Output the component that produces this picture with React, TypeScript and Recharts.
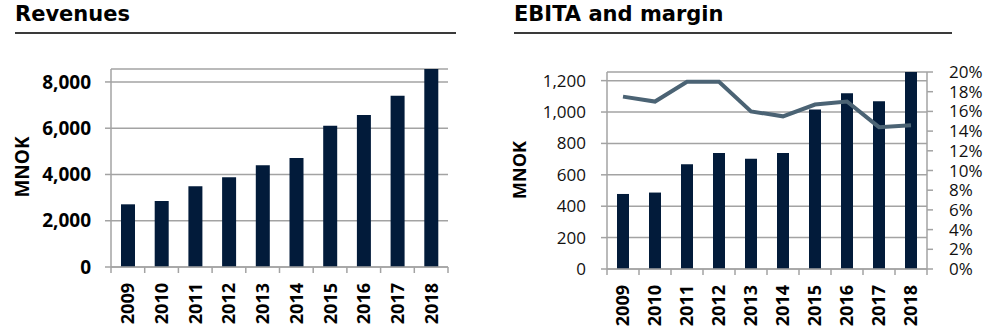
import React from "react";
import {
  BarChart,
  ComposedChart,
  Bar,
  Line,
  XAxis,
  YAxis,
  CartesianGrid,
} from "recharts";

const years = ["2009", "2010", "2011", "2012", "2013", "2014", "2015", "2016", "2017", "2018"];
const revenues = [2710, 2850, 3490, 3880, 4400, 4710, 6110, 6570, 7400, 8560];
const ebita = [478, 487, 668, 739, 702, 739, 1016, 1119, 1069, 1255];
const marginPct = [17.5, 17.0, 19.0, 19.0, 16.0, 15.5, 16.7, 17.0, 14.4, 14.6];
const revenueTicks = [0, 2000, 4000, 6000, 8000];
const ebitaTicks = [0, 200, 400, 600, 800, 1000, 1200];
const marginTicks = [0, 2, 4, 6, 8, 10, 12, 14, 16, 18, 20];

const revenueData = years.map((year, i) => ({ year, revenue: revenues[i] }));
const ebitaData = years.map((year, i) => ({ year, ebita: ebita[i], margin: marginPct[i] }));

const NAVY = "#021b3a";
const GRID = "#a3a3a3";
const TICK_FONT = "'Open Sans', sans-serif";

const fmt = (v: number) => v.toLocaleString("en-US");

// category tick: rotated label at the band centre, tick mark on the band edges
const YearTick = ({ x, y, payload, index, step, count }: any) => (
  <g>
    <line x1={x - step / 2} y1={y} x2={x - step / 2} y2={y + 6} stroke={GRID} strokeWidth={1.5} />
    {index === count - 1 && (
      <line x1={x + step / 2} y1={y} x2={x + step / 2} y2={y + 6} stroke={GRID} strokeWidth={1.5} />
    )}
    <text
      x={x}
      y={y + 16}
      transform={`rotate(-90, ${x}, ${y + 16})`}
      textAnchor="end"
      dy="0.36em"
      fontFamily={TICK_FONT}
      fontWeight={700}
      fontSize={18}
      fill="#000"
    >
      {payload.value}
    </text>
  </g>
);

const Title = ({ text, left, width }: { text: string; left: number; width: number }) => (
  <>
    <div
      style={{
        position: "absolute",
        left,
        top: 2,
        fontFamily: "'DejaVu Sans', sans-serif",
        fontWeight: 700,
        fontSize: 21,
        color: "#000",
        whiteSpace: "nowrap",
      }}
    >
      {text}
    </div>
    <div style={{ position: "absolute", left, top: 32, width, height: 2, background: "#3a3a3a" }} />
  </>
);

const AxisTitle = ({ cx, cy, size }: { cx: number; cy: number; size: number }) => (
  <div
    style={{
      position: "absolute",
      left: cx - 40,
      top: cy - 12,
      width: 80,
      height: 24,
      lineHeight: "24px",
      textAlign: "center",
      transform: "rotate(-90deg)",
      fontFamily: TICK_FONT,
      fontWeight: 700,
      fontSize: size,
      color: "#000",
    }}
  >
    MNOK
  </div>
);

const axisStroke = { stroke: GRID, strokeWidth: 1.5 };

export default function App() {
  return (
    <div style={{ position: "absolute", left: 0, top: 0, width: 1000, height: 336, background: "#fff" }}>
      <Title text="Revenues" left={15} width={441} />
      <Title text="EBITA and margin" left={514} width={438} />
      <AxisTitle cx={22} cy={167} size={19} />
      <AxisTitle cx={519} cy={170} size={18} />

      <div style={{ position: "absolute", left: 0, top: 0 }}>
        <BarChart
          width={500}
          height={336}
          data={revenueData}
          margin={{ top: 69, right: 52, left: 0, bottom: 0 }}
        >
          <CartesianGrid vertical={false} stroke={GRID} strokeWidth={1.5} />
          <XAxis
            dataKey="year"
            height={69}
            axisLine={axisStroke}
            tickLine={false}
            tickSize={0}
            tickMargin={0}
            interval={0}
            tick={<YearTick step={33.7} count={years.length} />}
          />
          <YAxis
            width={111}
            domain={[0, "dataMax"]}
            ticks={revenueTicks}
            tickFormatter={fmt}
            axisLine={axisStroke}
            tickLine={axisStroke}
            tickSize={6}
            tickMargin={14}
            tick={{ fontFamily: TICK_FONT, fontWeight: 700, fontSize: 19, fill: "#000" }}
          />
          <Bar dataKey="revenue" fill={NAVY} barSize={14} isAnimationActive={false} />
        </BarChart>
      </div>

      <div style={{ position: "absolute", left: 500, top: 0 }}>
        <ComposedChart
          width={500}
          height={336}
          data={ebitaData}
          margin={{ top: 72, right: 0, left: 0, bottom: 0 }}
        >
          <CartesianGrid vertical={false} stroke={GRID} strokeWidth={1.5} yAxisId="left" />
          <XAxis
            dataKey="year"
            height={67}
            axisLine={axisStroke}
            tickLine={false}
            tickSize={0}
            tickMargin={0}
            interval={0}
            tick={<YearTick step={32} count={years.length} />}
          />
          <YAxis
            yAxisId="left"
            width={107}
            domain={[0, "dataMax"]}
            ticks={ebitaTicks}
            tickFormatter={fmt}
            axisLine={axisStroke}
            tickLine={axisStroke}
            tickSize={6}
            tickMargin={15}
            tick={{ fontFamily: TICK_FONT, fontSize: 17, fill: "#111" }}
          />
          <YAxis
            yAxisId="right"
            orientation="right"
            width={73}
            domain={[0, 20]}
            ticks={marginTicks}
            interval={0}
            tickFormatter={(v: number) => `${v}%`}
            axisLine={axisStroke}
            tickLine={axisStroke}
            tickSize={6}
            tickMargin={16}
            tick={{ fontFamily: TICK_FONT, fontSize: 17, fill: "#111" }}
          />
          <Bar yAxisId="left" dataKey="ebita" fill={NAVY} barSize={12} isAnimationActive={false} />
          <Line
            yAxisId="right"
            dataKey="margin"
            type="linear"
            stroke="#4b6374"
            strokeWidth={4}
            dot={false}
            isAnimationActive={false}
          />
        </ComposedChart>
      </div>
    </div>
  );
}
